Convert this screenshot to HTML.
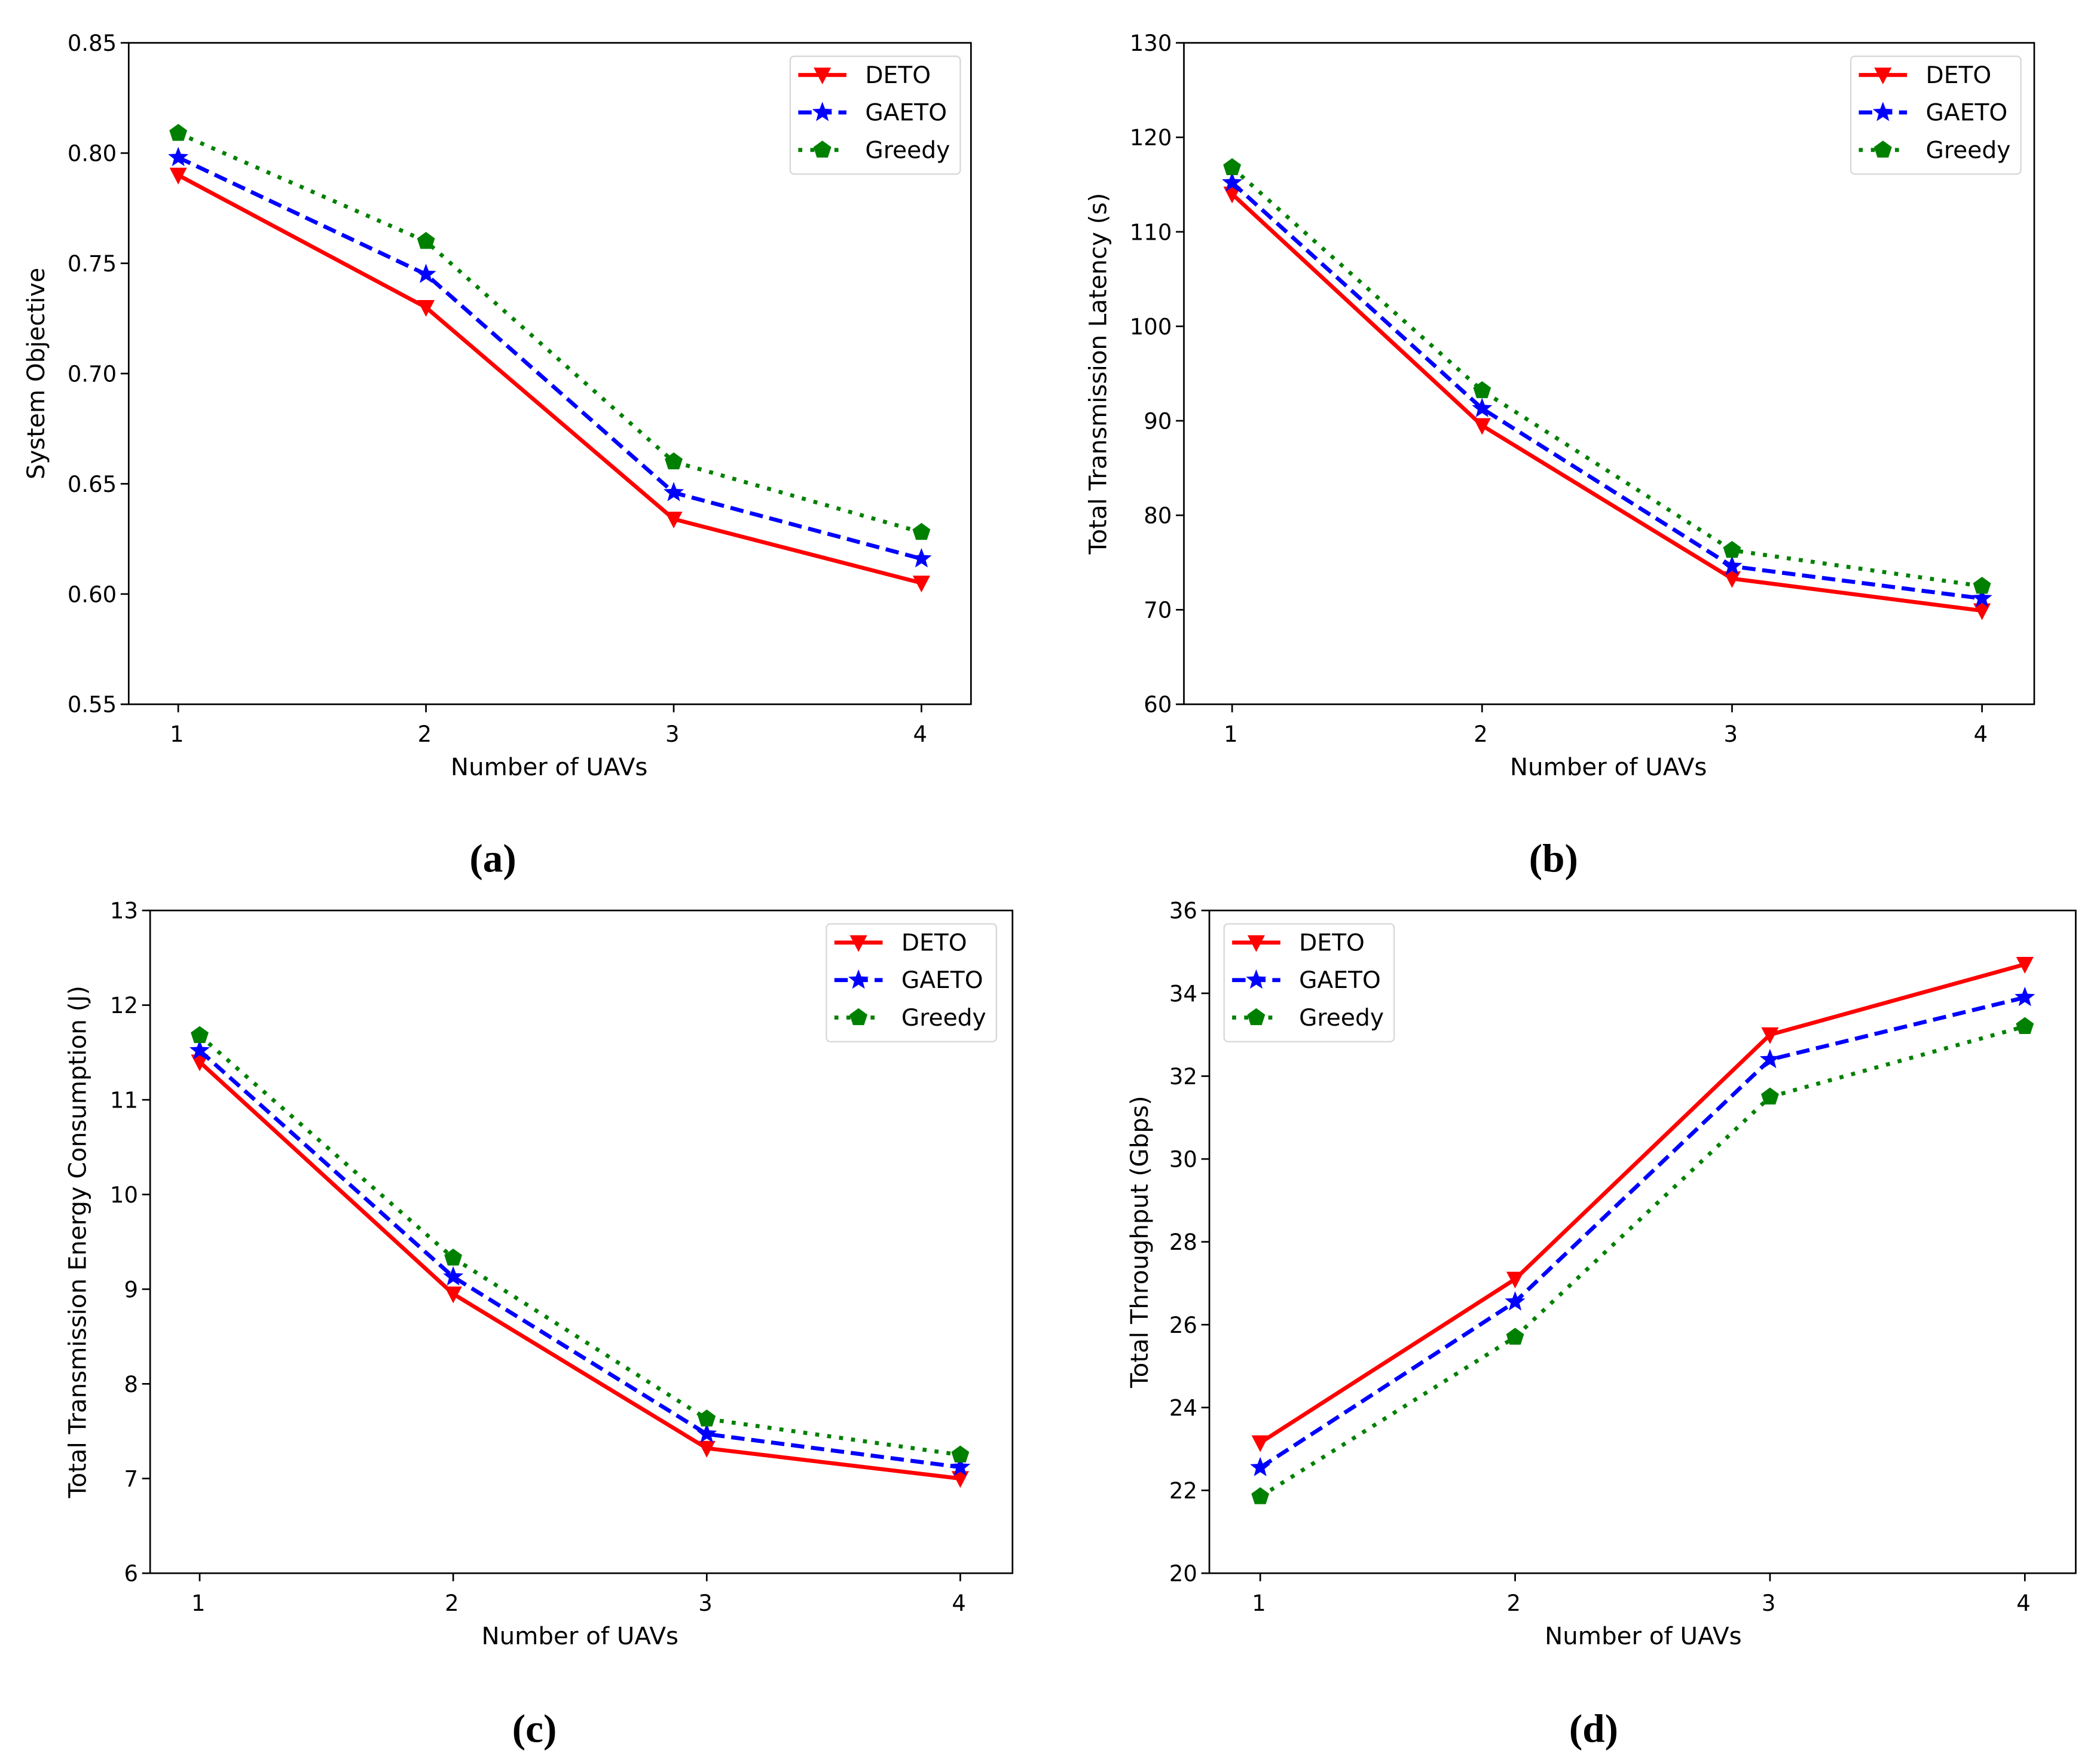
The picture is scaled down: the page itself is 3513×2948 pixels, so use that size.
<!DOCTYPE html>
<html><head><meta charset="utf-8"><style>
html,body{margin:0;padding:0;background:#fff;}
svg{display:block;}
text{font-family:"DejaVu Sans","Liberation Sans",sans-serif;fill:#000;}
.cap{font-family:"Liberation Serif",serif;}
</style></head><body>
<svg id="fig" width="3513" height="2948" viewBox="0 0 1568 1316" xmlns="http://www.w3.org/2000/svg"></svg>
<script>
const categories=[1,2,3,4];
const aDETO=[0.790,0.730,0.634,0.605];
const aGAETO=[0.798,0.745,0.646,0.616];
const aGreedy=[0.809,0.760,0.660,0.628];
const aTicks=["0.55","0.60","0.65","0.70","0.75","0.80","0.85"];
const bDETO=[114.0,89.5,73.3,69.9];
const bGAETO=[115.2,91.3,74.6,71.2];
const bGreedy=[116.8,93.2,76.3,72.5];
const bTicks=["60","70","80","90","100","110","120","130"];
const cDETO=[11.40,8.95,7.32,7.00];
const cGAETO=[11.52,9.13,7.47,7.12];
const cGreedy=[11.68,9.33,7.63,7.25];
const cTicks=["6","7","8","9","10","11","12","13"];
const dDETO=[23.15,27.1,33.0,34.7];
const dGAETO=[22.55,26.55,32.4,33.9];
const dGreedy=[21.85,25.7,31.5,33.2];
const dTicks=["20","22","24","26","28","30","32","34","36"];

const NS="http://www.w3.org/2000/svg";
const svg=document.getElementById('fig');
function mk(tag,attrs,parent){const e=document.createElementNS(NS,tag);for(const k in attrs)e.setAttribute(k,attrs[k]);(parent||svg).appendChild(e);return e;}

function marker(g,type,x,y,color){
  let m;
  if(type==='tri'){m=mk('polygon',{points:`${x-6.5},${y-5.5} ${x+6.5},${y-5.5} ${x},${y+7}`,fill:color},g);}
  else if(type==='star'){let p=[];for(let i=0;i<10;i++){const r=i%2?3.4:8;const a=-Math.PI/2+i*Math.PI/5;p.push((x+r*Math.cos(a)).toFixed(2)+','+(y+r*Math.sin(a)).toFixed(2));}m=mk('polygon',{points:p.join(' '),fill:color},g);}
  else {let p=[];for(let i=0;i<5;i++){const a=-Math.PI/2+i*2*Math.PI/5;p.push((x+7*Math.cos(a)).toFixed(2)+','+(y+7*Math.sin(a)).toFixed(2));}m=mk('polygon',{points:p.join(' '),fill:color},g);}
  return m;
}

const seriesStyle=[
 {name:'DETO',color:'#ff0000',dash:'',mk:'tri',cap:'butt'},
 {name:'GAETO',color:'#0000ff',dash:'10,5',mk:'star',cap:'butt'},
 {name:'Greedy',color:'#008000',dash:'3,6',mk:'pent',cap:'butt'}];

function panel(id,box,ymin,ymax,ticks,x1px,x4px,ylabel,ylabX,xlabX,xlabY,data,leg,cap){
  const g=mk('g',{});
  
  
  const [L,T,R,B]=box;
  const ys=v=>B-(v-ymin)/(ymax-ymin)*(B-T);
  const xs=v=>x1px+(v-categories[0])*(x4px-x1px)/(categories[categories.length-1]-categories[0]);
  const frame=mk('rect',{x:L,y:T,width:R-L,height:B-T,fill:'none',stroke:'#000','stroke-width':1.2},g);
  
  
  ticks.forEach(t=>{const y=ys(parseFloat(t));
    mk('line',{x1:L-6,x2:L,y1:y,y2:y,stroke:'#000','stroke-width':1.2},g);
    const tx=mk('text',{x:L-9,y:y+6,'text-anchor':'end','font-size':16.5},g);tx.textContent=t;
    
    });
  categories.forEach(c=>{const x=xs(c);
    mk('line',{x1:x,x2:x,y1:B,y2:B+6,stroke:'#000','stroke-width':1.2},g);
    const tx=mk('text',{x:x-1,y:B+28,'text-anchor':'middle','font-size':16.5},g);tx.textContent=c;
    
    });
  const yl=mk('text',{x:0,y:0,'text-anchor':'middle','font-size':18,transform:`translate(${ylabX},${(T+B)/2}) rotate(-90)`},g);yl.textContent=ylabel;
  
  
  const xl=mk('text',{x:xlabX,y:xlabY,'text-anchor':'middle','font-size':18},g);xl.textContent='Number of UAVs';
  
  
  data.forEach((arr,si)=>{const st=seriesStyle[si];
    const pts=arr.map((v,i)=>xs(categories[i]).toFixed(2)+','+ys(v).toFixed(2)).join(' ');
    const pl=mk('polyline',{points:pts,fill:'none',stroke:st.color,'stroke-width':3,'stroke-dasharray':st.dash,'stroke-linecap':st.cap},g);
    
    
    arr.forEach((v,i)=>{const m=marker(g,st.mk,xs(categories[i]),ys(v),st.color);
      
      });
  });
  const [lx,ly]=leg;
  const lg=mk('g',{},g);
  
  
  mk('rect',{x:lx,y:ly,width:127,height:88,rx:3,fill:'#fff',stroke:'#d6d6d6','stroke-width':1},lg);
  seriesStyle.forEach((st,i)=>{const y=ly+14+i*28;
    mk('line',{x1:lx+6,x2:lx+42,y1:y,y2:y,stroke:st.color,'stroke-width':3,'stroke-dasharray':st.dash},lg);
    marker(lg,st.mk,lx+24,y,st.color);
    const t=mk('text',{x:lx+56,y:y+6,'font-size':17.5},lg);t.textContent=st.name;
    
    });
  const c=mk('text',{x:cap[0],y:cap[1],'text-anchor':'middle','font-size':30,'font-weight':'bold','class':'cap'},g);c.textContent='('+id+')';
  
  
}

panel('a',[96,32,725,526],0.55,0.85,aTicks,133,688,'System Objective',33,410,579,[aDETO,aGAETO,aGreedy],[590,42],[368,651]);
panel('b',[884,32,1519,526],60,130,bTicks,920,1480,'Total Transmission Latency (s)',826,1201,579,[bDETO,bGAETO,bGreedy],[1382,42],[1160,651]);
panel('c',[112,680,756,1175],6,13,cTicks,149,717,'Total Transmission Energy Consumption (J)',64,433,1228,[cDETO,cGAETO,cGreedy],[617,690],[399,1301]);
panel('d',[903,680,1550,1175],20,36,dTicks,941,1512,'Total Throughput (Gbps)',857,1227,1228,[dDETO,dGAETO,dGreedy],[914,690],[1190,1301]);
</script>
</body></html>
